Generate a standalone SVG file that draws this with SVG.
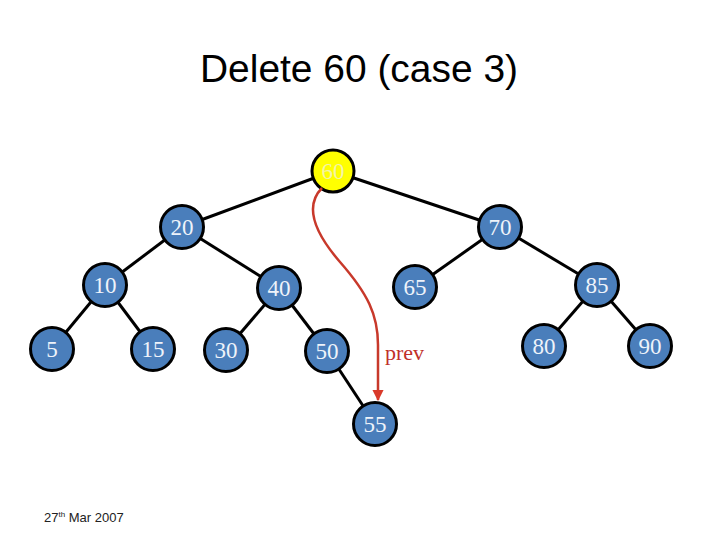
<svg xmlns="http://www.w3.org/2000/svg" width="720" height="540" viewBox="0 0 720 540">
<style>
.title{font-family:"Liberation Sans",Arial,sans-serif;font-size:38px;fill:#000}
.edge{stroke:#000;stroke-width:3;fill:none}
.n circle{fill:#4A7EBB;stroke:#000;stroke-width:3}
.n text{font-family:"Liberation Serif","Times New Roman",serif;font-size:23px;fill:#EEF3FA;text-anchor:middle}
#n60 circle{fill:#FFFF00}
#n60 text{fill:#F4F4A8}
.foot{font-family:"Liberation Sans",Arial,sans-serif;font-size:13px;fill:#222}
.prev{font-family:"Liberation Serif","Times New Roman",serif;font-size:22px;fill:#C0302A}
</style>
<defs>
<marker id="ah" viewBox="0 0 10 10" refX="9" refY="5" markerWidth="4.5" markerHeight="4.5" orient="auto" markerUnits="strokeWidth">
<path d="M0,0 L10,5 L0,10 z" fill="#D93A2A"/>
</marker>
</defs>
<rect width="720" height="540" fill="#fff"/>
<text class="title" x="200" y="82" textLength="318" lengthAdjust="spacingAndGlyphs">Delete 60 (case 3)</text>
<g id="edges">
<line class="edge" x1="333" y1="171" x2="182" y2="227"/>
<line class="edge" x1="333" y1="171" x2="500" y2="227"/>
<line class="edge" x1="182" y1="227" x2="105" y2="285"/>
<line class="edge" x1="182" y1="227" x2="279" y2="288"/>
<line class="edge" x1="500" y1="227" x2="415" y2="287" style="stroke:#000;stroke-width:3"/>
<line class="edge" x1="500" y1="227" x2="597" y2="285"/>
<line class="edge" x1="105" y1="285" x2="52" y2="349"/>
<line class="edge" x1="105" y1="285" x2="153" y2="349"/>
<line class="edge" x1="279" y1="288" x2="226" y2="350"/>
<line class="edge" x1="279" y1="288" x2="327" y2="351"/>
<line class="edge" x1="327" y1="351" x2="375" y2="424"/>
<line class="edge" x1="597" y1="285" x2="544" y2="346"/>
<line class="edge" x1="597" y1="285" x2="650" y2="346"/>
</g>
<g id="n60" class="n"><circle cx="333" cy="171" r="21"/><text x="333" y="179">60</text></g>
<g id="n20" class="n"><circle cx="182" cy="227" r="21.5"/><text x="182" y="235">20</text></g>
<g id="n70" class="n"><circle cx="500" cy="227" r="21.5"/><text x="500" y="235">70</text></g>
<g id="n10" class="n"><circle cx="105" cy="285" r="21.5"/><text x="105" y="293">10</text></g>
<g id="n40" class="n"><circle cx="279" cy="288" r="21.5"/><text x="279" y="296">40</text></g>
<g id="n65" class="n"><circle cx="415" cy="287" r="21.5"/><text x="415" y="295">65</text></g>
<g id="n85" class="n"><circle cx="597" cy="285" r="21.5"/><text x="597" y="293">85</text></g>
<g id="n5" class="n"><circle cx="52" cy="349" r="21.5"/><text x="52" y="357">5</text></g>
<g id="n15" class="n"><circle cx="153" cy="349" r="21.5"/><text x="153" y="357">15</text></g>
<g id="n30" class="n"><circle cx="226" cy="350" r="21.5"/><text x="226" y="358">30</text></g>
<g id="n50" class="n"><circle cx="327" cy="351" r="21.5"/><text x="327" y="359">50</text></g>
<g id="n80" class="n"><circle cx="544" cy="346" r="21.5"/><text x="544" y="354">80</text></g>
<g id="n90" class="n"><circle cx="650" cy="346" r="21.5"/><text x="650" y="354">90</text></g>
<g id="n55" class="n"><circle cx="375" cy="424" r="21.5"/><text x="375" y="432">55</text></g>
<g id="arrow">
<path d="M322 188 C308 202 308 225 340 262 C368 294 378 315 378 345 L378 400" fill="none" stroke="#C8392B" stroke-width="2.5" marker-end="url(#ah)"/>
</g>
<text class="prev" x="385" y="360">prev</text>
<text class="foot" x="44" y="522">27<tspan font-size="8" dy="-5">th</tspan><tspan dy="5"> Mar 2007</tspan></text>
</svg>
